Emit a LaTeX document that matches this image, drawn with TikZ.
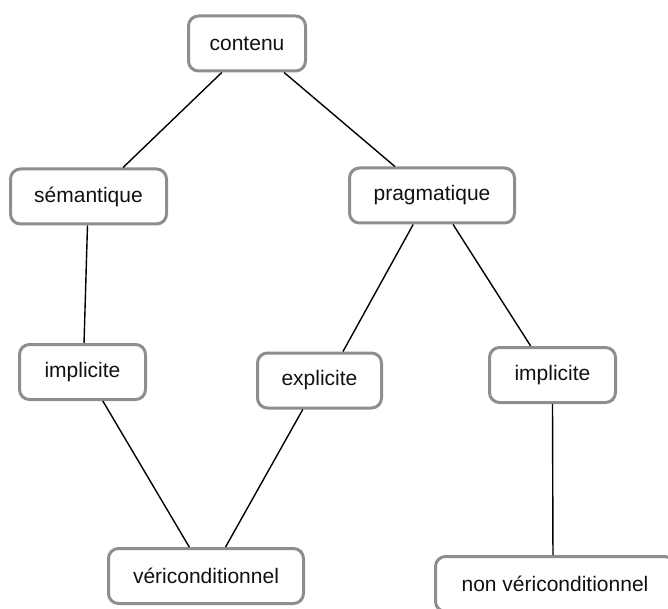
\documentclass[tikz,border=0pt]{standalone}
\usepackage{fontspec}
\setmainfont{Liberation Sans}
\usepackage{xcolor}
\usepackage{tikz}
\usetikzlibrary{calc}
\definecolor{bg}{HTML}{FFFFFF}
\definecolor{frame}{HTML}{8E8E8E}
\definecolor{ink}{HTML}{111111}
\tikzset{
  box/.style={draw=frame, fill=bg, line width=3pt, rounded corners=10pt,
    minimum height=55pt, inner sep=0pt, text=ink, font=\fontsize{21}{25}\selectfont},
  link/.style={draw=black, line width=1.4pt},
}

\begin{document}
\begin{tikzpicture}[x=1pt, y=-1pt]
  \useasboundingbox (0,0) rectangle (668,609);

  \node[box, minimum width=117pt] (contenu) at (247,43.5) {contenu};
  \node[box, minimum width=156pt] (semantique) at (88.5,196.5) {sémantique};
  \node[box, minimum width=165pt] (pragmatique) at (432,195.5) {pragmatique};
  \node[box, minimum width=126pt] (implL) at (82.5,372) {implicite};
  \node[box, minimum width=124pt] (explicite) at (319.5,380.5) {explicite};
  \node[box, minimum width=126pt] (implR) at (552.5,375) {implicite};
  \node[box, minimum width=195pt] (veri) at (206,576) {véri{}conditionnel};
  \node[box, minimum width=239pt] (nonveri) at (555,584) {non véri{}conditionnel}; % runs off the page edge

  \draw[link] (contenu.-131.5) -- (semantique.40.4);
  \draw[link] (contenu.-38.7) -- (pragmatique.142.4);
  \draw[link] (semantique.-92) -- (implL.87);
  \draw[link] (pragmatique.-123.7) -- (explicite.51.7);
  \draw[link] (pragmatique.-54.9) -- (implR.127.8);
  \draw[link] (implL.-55.1) -- (veri.120.4);
  \draw[link] (explicite.-120.1) -- (veri.56.8);
  \draw[link] (implR.south) -- (nonveri.94);
\end{tikzpicture}
\end{document}
